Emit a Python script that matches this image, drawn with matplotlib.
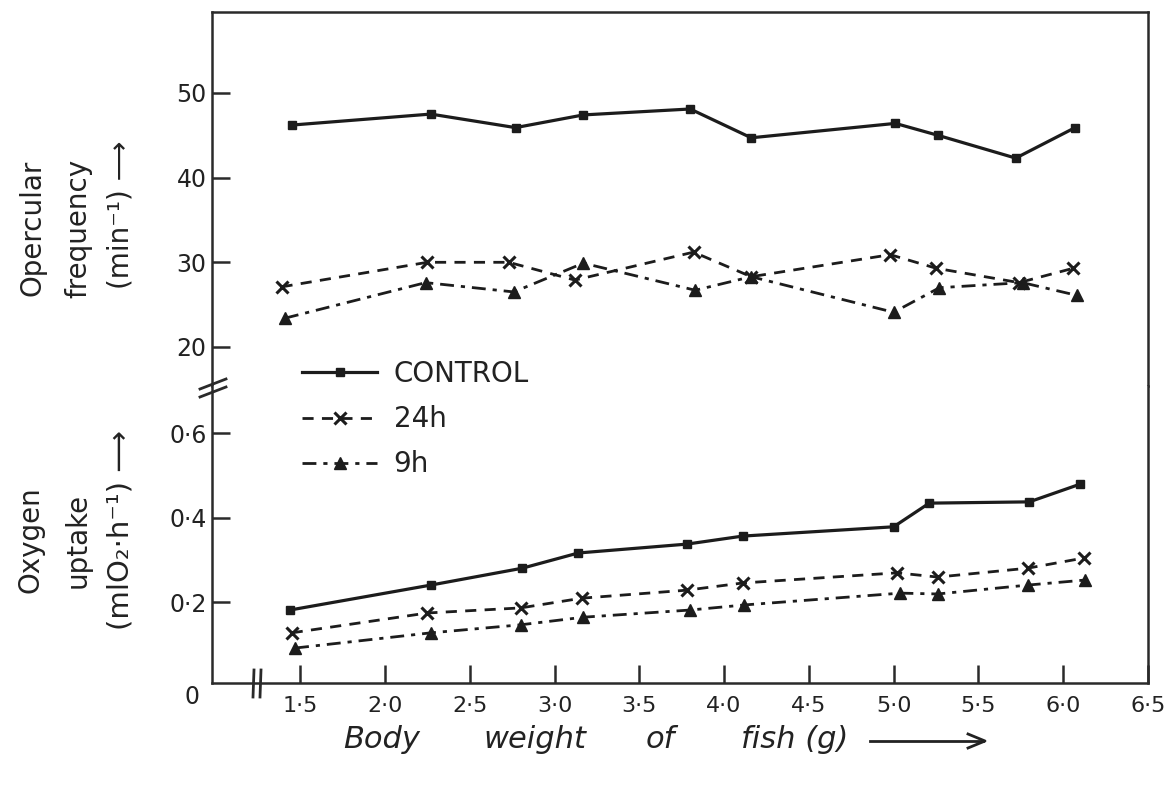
import matplotlib
matplotlib.use("Agg")
import matplotlib.pyplot as plt
from matplotlib.lines import Line2D

# ---------------- data ----------------
# Opercular frequency (min^-1)
ctrl_op_x = [1.45, 2.27, 2.77, 3.17, 3.80, 4.16, 5.01, 5.26, 5.72, 6.07]
ctrl_op_y = [46.2, 47.5, 45.9, 47.4, 48.1, 44.7, 46.4, 45.0, 42.3, 45.9]
h24_op_x = [1.39, 2.25, 2.73, 3.12, 3.82, 4.16, 4.98, 5.25, 5.74, 6.06]
h24_op_y = [27.1, 30.0, 30.0, 27.9, 31.2, 28.3, 30.9, 29.3, 27.6, 29.3]
h9_op_x = [1.41, 2.24, 2.76, 3.17, 3.83, 4.16, 5.00, 5.27, 5.76, 6.08]
h9_op_y = [23.4, 27.6, 26.5, 29.9, 26.7, 28.3, 24.1, 27.0, 27.6, 26.1]

# Oxygen uptake (ml O2 h^-1)
ctrl_o2_x = [1.44, 2.27, 2.81, 3.14, 3.78, 4.11, 5.00, 5.21, 5.80, 6.10]
ctrl_o2_y = [0.181, 0.240, 0.280, 0.316, 0.337, 0.356, 0.378, 0.434, 0.437, 0.479]
h24_o2_x = [1.45, 2.25, 2.80, 3.16, 3.78, 4.11, 5.02, 5.26, 5.79, 6.12]
h24_o2_y = [0.127, 0.174, 0.186, 0.209, 0.228, 0.245, 0.269, 0.259, 0.280, 0.304]
h9_o2_x = [1.47, 2.27, 2.80, 3.17, 3.80, 4.12, 5.04, 5.26, 5.79, 6.13]
h9_o2_y = [0.091, 0.127, 0.146, 0.164, 0.181, 0.193, 0.221, 0.219, 0.240, 0.252]

x_ticks = [1.5, 2.0, 2.5, 3.0, 3.5, 4.0, 4.5, 5.0, 5.5, 6.0, 6.5]
x_tick_labels = ["1·5", "2·0", "2·5", "3·0", "3·5", "4·0", "4·5", "5·0", "5·5", "6·0", "6·5"]
op_ticks = [20, 30, 40, 50]
op_tick_labels = ["20", "30", "40", "50"]
o2_ticks = [0.2, 0.4, 0.6]
o2_tick_labels = ["0·2", "0·4", "0·6"]
series_labels = ["CONTROL", "24h", "9h"]
xlabel_words = ["Body", "weight", "of", "fish (g)"]

# ---------------- figure ----------------
W_PX, H_PX = 1171, 788
fig = plt.figure(figsize=(W_PX / 100, H_PX / 100), dpi=100)
fig.patch.set_facecolor("white")

def fx(px):
    return px / W_PX

def fy(py):
    return 1 - py / H_PX

left_px, right_px = 212, 1148
top_px, brk_px, bot_px = 12, 386, 683

ax_top = fig.add_axes([fx(left_px), fy(brk_px), fx(right_px) - fx(left_px),
                       (brk_px - top_px) / H_PX])
ax_bot = fig.add_axes([fx(left_px), fy(bot_px), fx(right_px) - fx(left_px),
                       (bot_px - brk_px) / H_PX])

ink = "#1c1c1c"
styles = [
    dict(color=ink, lw=2.3, ls="-", marker="s", ms=6, mfc=ink, mec=ink),
    dict(color=ink, lw=2.0, ls=(0, (4, 3)), marker="x", ms=8, mew=2.2, mec=ink),
    dict(color=ink, lw=2.0, ls=(0, (5, 2.5, 1.5, 2.5)), marker="^", ms=8, mfc=ink, mec=ink),
]

op_data = [(ctrl_op_x, ctrl_op_y), (h24_op_x, h24_op_y), (h9_op_x, h9_op_y)]
o2_data = [(ctrl_o2_x, ctrl_o2_y), (h24_o2_x, h24_o2_y), (h9_o2_x, h9_o2_y)]

handles = []
for (xs, ys), st, lab in zip(op_data, styles, series_labels):
    h, = ax_top.plot(xs, ys, label=lab, **st)
    handles.append(h)
for (xs, ys), st in zip(o2_data, styles):
    ax_bot.plot(xs, ys, **st)

# y scales: 20 -> 347 px, 10 units = 84.7 px ; 0.2 -> 602 px, 0.2 units = 84.5 px
op_lo = 20 - (brk_px - 347) / 8.47
op_hi = 20 + (347 - top_px) / 8.47
o2_hi = 0.2 + (602 - brk_px) / 422.5
o2_lo = 0.2 - (bot_px - 602) / 422.5

for ax in (ax_top, ax_bot):
    ax.set_xlim(0.98, 6.5)
    for s in ax.spines.values():
        s.set_color("#2a2a2a")
        s.set_linewidth(1.8)
    ax.tick_params(direction="in", length=13, width=1.8, colors="#2a2a2a",
                   labelsize=17, labelcolor="#222222")

ax_top.set_ylim(op_lo, op_hi)
ax_bot.set_ylim(o2_lo, o2_hi)
ax_top.spines["bottom"].set_visible(False)
ax_bot.spines["top"].set_visible(False)

ax_top.set_xticks([])
ax_top.set_yticks(op_ticks)
ax_top.set_yticklabels(op_tick_labels)
ax_top.tick_params(axis="y", pad=4)

ax_bot.set_yticks(o2_ticks)
ax_bot.set_yticklabels(o2_tick_labels)
ax_bot.tick_params(axis="y", pad=4)
ax_bot.set_xticks(x_ticks)
ax_bot.set_xticklabels(x_tick_labels, fontsize=16)
ax_bot.tick_params(axis="x", pad=9)

# origin label and axis breaks
fig.text(fx(192), fy(697), "0", fontsize=17, ha="center", va="center", color="#222222")
for x0 in (253, 260):
    fig.add_artist(Line2D([fx(x0), fx(x0 + 1)], [fy(697), fy(670)],
                          transform=fig.transFigure, color="#2a2a2a", lw=2))
for dy in (-4, 4):
    fig.add_artist(Line2D([fx(200), fx(226)], [fy(388 + dy + 5), fy(388 + dy - 5)],
                          transform=fig.transFigure, color="#2a2a2a", lw=2))

# legend
fig.legend(handles=handles, labels=series_labels, loc="upper left",
           bbox_to_anchor=(fx(302), fy(360)), frameon=False, fontsize=20,
           handlelength=2.7, handletextpad=0.6, labelspacing=0.62,
           borderpad=0, borderaxespad=0, numpoints=1, labelcolor="#222222")

# axis titles
tc = "#222222"
fig.text(fx(32), fy(228), "Opercular", rotation=90, fontsize=20, ha="center", va="center", color=tc)
fig.text(fx(78), fy(228), "frequency", rotation=90, fontsize=20, ha="center", va="center", color=tc)
fig.text(fx(120), fy(215), "(min⁻¹) ⟶", rotation=90, fontsize=20, ha="center", va="center", color=tc)

fig.text(fx(30), fy(540), "Oxygen", rotation=90, fontsize=20, ha="center", va="center", color=tc)
fig.text(fx(78), fy(540), "uptake", rotation=90, fontsize=20, ha="center", va="center", color=tc)
fig.text(fx(120), fy(530), "(mlO₂·h⁻¹) ⟶", rotation=90, fontsize=21, ha="center", va="center", color=tc)

# x title: words spread like the hand lettering, followed by a long arrow
for word, cx in zip(xlabel_words, [382, 535, 660, 795]):
    fig.text(fx(cx), fy(740), word, fontsize=22, style="italic",
             ha="center", va="center", color=tc)
fig.add_artist(Line2D([fx(870), fx(983)], [fy(741), fy(741)], transform=fig.transFigure,
                      color=tc, lw=2))
fig.add_artist(Line2D([fx(968), fx(985), fx(968)], [fy(734), fy(741), fy(748)],
                      transform=fig.transFigure, color=tc, lw=2))

fig.savefig("out.png", dpi=100, facecolor="white")
